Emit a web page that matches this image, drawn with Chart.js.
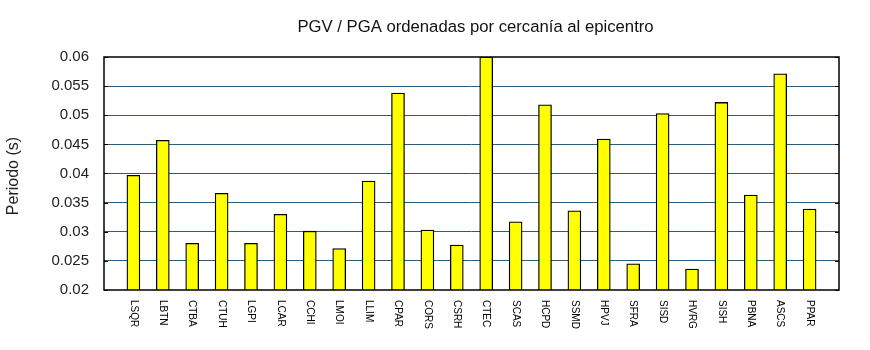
<!DOCTYPE html>
<html>
<head>
<meta charset="utf-8">
<script src="https://cdn.jsdelivr.net/npm/chart.js@4.4.1/dist/chart.umd.min.js"></script>
<style>
  html, body { margin: 0; padding: 0; background: #ffffff; }
  #wrap { width: 870px; height: 350px; position: relative; }
</style>
</head>
<body>
<div id="wrap"><canvas id="c" width="870" height="350"></canvas></div>
<script>
// Estaciones ordenadas por distancia al epicentro
const estaciones = ['LSQR', 'LBTN', 'CTBA', 'CTUH', 'LGPI', 'LCAR', 'CCHI', 'LMOI',
  'LLIM', 'CPAR', 'CORS', 'CSRH', 'CTEC', 'SCAS', 'HCPD', 'SSMD', 'HPVJ', 'SFRA',
  'SISD', 'HVRG', 'SISH', 'PBNA', 'ASCS', 'PPAR'];

// Cociente PGV / PGA (s)
const periodos = [0.0397, 0.0457, 0.0280, 0.0366, 0.0280, 0.0330, 0.0301, 0.0271,
  0.0387, 0.0538, 0.0303, 0.0277, 0.0600, 0.0317, 0.0518, 0.0336, 0.0459, 0.0245,
  0.0503, 0.0236, 0.0522, 0.0363, 0.0571, 0.0339];

const yTicks = [0.02, 0.025, 0.03, 0.035, 0.04, 0.045, 0.05, 0.055, 0.06];

const FONT = '"Liberation Sans", Arial, Helvetica, sans-serif';

// One empty slot at each end leaves a category-wide margin inside the frame
const etiquetas = [''].concat(estaciones, ['']);
const valores = [null].concat(periodos, [null]);

const marco = {
  id: 'marco',
  afterDatasetsDraw(chart) {
    const { ctx, chartArea: a, scales } = chart;
    ctx.save();
    // short inward tick marks on both vertical sides
    ctx.strokeStyle = '#000';
    ctx.lineWidth = 1;
    yTicks.forEach(v => {
      const y = Math.round(scales.y.getPixelForValue(v)) + 0.5;
      ctx.beginPath();
      ctx.moveTo(a.left, y); ctx.lineTo(a.left + 4, y);
      ctx.moveTo(a.right - 4, y); ctx.lineTo(a.right, y);
      ctx.stroke();
    });
    ctx.lineWidth = 1.5;
    ctx.strokeRect(a.left, a.top, a.right - a.left, a.bottom - a.top);

    // station names, rotated to read downward
    ctx.fillStyle = '#000';
    ctx.font = '10px ' + FONT;
    ctx.textAlign = 'left';
    ctx.textBaseline = 'middle';
    estaciones.forEach((n, i) => {
      const x = scales.x.getPixelForValue(i + 1);
      ctx.save();
      ctx.translate(x, a.bottom + 10);
      ctx.rotate(Math.PI / 2);
      ctx.fillText(n, 0, 0);
      ctx.restore();
    });

    // title
    ctx.font = '16.7px ' + FONT;
    ctx.textAlign = 'center';
    ctx.fillStyle = '#111';
    ctx.fillText('PGV / PGA ordenadas por cercanía al epicentro', (a.left + a.right) / 2 + 4, 27);

    // y axis title
    ctx.save();
    ctx.translate(14, 176);
    ctx.rotate(-Math.PI / 2);
    ctx.font = '16px ' + FONT;
    ctx.fillStyle = '#222';
    ctx.fillText('Periodo (s)', 0, 0);
    ctx.restore();
    ctx.restore();
  }
};

new Chart(document.getElementById('c'), {
  type: 'bar',
  data: {
    labels: etiquetas,
    datasets: [{
      data: valores,
      backgroundColor: '#ffff00',
      borderColor: '#000000',
      borderWidth: 1.3,
      borderSkipped: false,
      barThickness: 13
    }]
  },
  options: {
    responsive: false,
    animation: false,
    events: [],
    layout: { padding: { top: 57, right: 31, left: 0, bottom: 0 } },
    plugins: { legend: { display: false }, title: { display: false }, tooltip: { enabled: false } },
    scales: {
      x: {
        type: 'category',
        offset: false,
        grid: { display: false },
        border: { display: false },
        ticks: { display: false },
        afterFit(s) { s.height = 60; }
      },
      y: {
        min: 0.02,
        max: 0.06,
        afterBuildTicks(s) { s.ticks = yTicks.map(v => ({ value: v })); },
        grid: {
          drawTicks: false,
          lineWidth: 1,
          color: ctx => (ctx.tick && (ctx.tick.value === 0.02 || ctx.tick.value === 0.06)) ? 'rgba(0,0,0,0)' : '#2a5d7e'
        },
        border: { display: false },
        ticks: {
          padding: 15,
          color: '#222',
          font: { family: FONT, size: 15 },
          callback: v => String(Number(v.toFixed(3)))
        },
        afterFit(s) { s.width = 104; }
      }
    }
  },
  plugins: [marco]
});
</script>
</body>
</html>
